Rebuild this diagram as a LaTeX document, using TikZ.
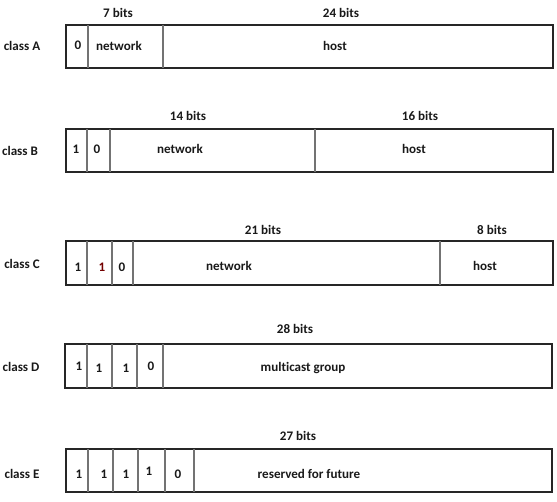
\documentclass[tikz,border=0pt]{standalone}
\usepackage{fontspec}
\setmainfont[Ligatures=NoCommon]{Carlito}
\begin{document}
\begin{tikzpicture}[x=0.75pt,y=-0.75pt,
  frame/.style={draw=black!85,line width=1.4pt},
  divider/.style={draw=black!55,line width=0.8pt},
  lbl/.style={inner sep=0pt,font=\fontsize{9.8}{11}\selectfont\bfseries,text=black!90},
  redbit/.style={lbl,text=red!45!black}]
\useasboundingbox (0,0) rectangle (557,501);
% class A
\draw[frame] (66,25) rectangle (553,68);
\draw[divider] (88,25) -- (88,68) (163,25) -- (163,68);
\node[lbl] (cA) at (22,46) {class A};
\node[lbl] (a7) at (118,13) {7 bits};
\node[lbl] (a24) at (341,13) {24 bits};
\node[lbl] (a0) at (78,45) {0};
\node[lbl] (anet) at (119,46) {network};
\node[lbl] (ahost) at (335,46) {host};
% class B
\draw[frame] (66,129) rectangle (553,172);
\draw[divider] (87,129) -- (87,172) (110,129) -- (110,172) (315,129) -- (315,172);
\node[lbl] (cB) at (20,151) {class B};
\node[lbl] (b14) at (188,116) {14 bits};
\node[lbl] (b16) at (420,116) {16 bits};
\node[lbl] (b1) at (76,149) {1};
\node[lbl] (b0) at (97,149) {0};
\node[lbl] (bnet) at (180,149) {network};
\node[lbl] (bhost) at (414,149) {host};
% class C
\draw[frame] (66,241) rectangle (553,285);
\draw[divider] (87,241) -- (87,285) (112,241) -- (112,285) (133,241) -- (133,285) (440,241) -- (440,285);
\node[lbl] (cC) at (22,264) {class C};
\node[lbl] (c21) at (263,230) {21 bits};
\node[lbl] (c8) at (492,230) {8 bits};
\node[lbl] (c1a) at (78,267) {1};
\node[redbit] (c1b) at (102,267) {1};
\node[lbl] (c0) at (122,267) {0};
\node[lbl] (cnet) at (229,266) {network};
\node[lbl] (chost) at (485,266) {host};
% class D
\draw[frame] (65,344) rectangle (552,388);
\draw[divider] (87,344) -- (87,388) (112,344) -- (112,388) (137,344) -- (137,388) (163,344) -- (163,388);
\node[lbl] (cD) at (21,367) {class D};
\node[lbl] (d28) at (295,329) {28 bits};
\node[lbl] (d1a) at (79,366) {1};
\node[lbl] (d1b) at (99,368) {1};
\node[lbl] (d1c) at (126,368) {1};
\node[lbl] (d0) at (151,366) {0};
\node[lbl] (dmc) at (303,368) {multicast group};
% class E
\draw[frame] (66,449) rectangle (552,492);
\draw[divider] (88,449) -- (88,492) (113,449) -- (113,492) (138,449) -- (138,492) (165,449) -- (165,492) (194,449) -- (194,492);
\node[lbl] (cE) at (22,474) {class E};
\node[lbl] (e27) at (298,436) {27 bits};
\node[lbl] (e1a) at (79,474) {1};
\node[lbl] (e1b) at (104,474) {1};
\node[lbl] (e1c) at (126,474) {1};
\node[lbl] (e1d) at (149,471) {1};
\node[lbl] (e0) at (178,474) {0};
\node[lbl] (eres) at (309,474) {reserved for future};
\end{tikzpicture}
\end{document}
